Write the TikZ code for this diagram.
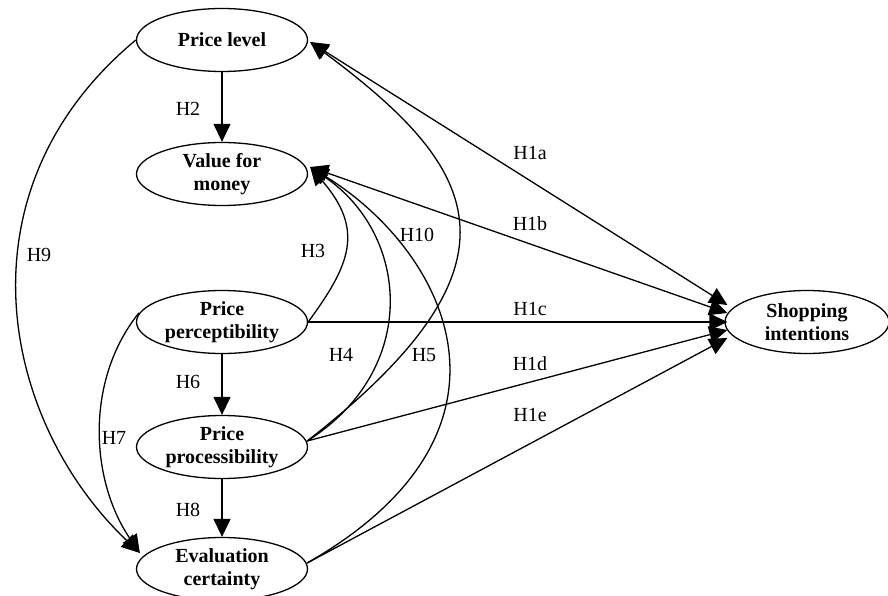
\documentclass[tikz,border=0pt]{standalone}
\usepackage{fontspec}
\setmainfont{Liberation Serif}
\usetikzlibrary{arrows.meta,shapes.geometric}
\begin{document}
\begin{tikzpicture}[x=1pt,y=-1pt,
  var/.style={ellipse, draw, line width=1.3pt, minimum width=171pt, minimum height=63pt, inner sep=0pt, align=center, font=\fontsize{20}{23.5}\selectfont\bfseries},
  lbl/.style={font=\fontsize{20}{23.5}\selectfont, inner sep=0pt},
  edge/.style={line width=1.3pt, -{Triangle[length=18pt,width=17pt]}},
  dedge/.style={line width=1.3pt, {Triangle[length=18pt,width=17pt]}-{Triangle[length=18pt,width=17pt]}}
]
\useasboundingbox (0,0) rectangle (888,596);
\fill[white] (0,0) rectangle (888,596);

% nodes
\node[var] (pl) at (222,40) {Price level};
\node[var] (vfm) at (222,174) {Value for\\money};
\node[var] (pperc) at (222,322) {Price\\perceptibility};
\node[var] (pp) at (222,447) {Price\\processibility};
\node[var] (ec) at (222,569) {Evaluation\\certainty};
\node[var, minimum width=164pt] (si) at (807,322) {Shopping\\intentions};

% connection points
\coordinate (plT) at ([shift={(2,2)}]pl.east);
\coordinate (vfmT) at ([shift={(2,-7)}]vfm.east);
\coordinate (ecT) at ([shift={(4,-16)}]ec.west);
\coordinate (ppS) at ([shift={(-1,-6)}]pp.east);
\coordinate (ecS) at ([shift={(-1,-6)}]ec.east);
\coordinate (ppercW) at ([shift={(3,-9)}]pperc.west);
\coordinate (siA) at ([shift={(3,-17)}]si.west);
\coordinate (siB) at ([shift={(3,-9)}]si.west);
\coordinate (siC) at ([shift={(3,0)}]si.west);
\coordinate (siD) at ([shift={(3,8)}]si.west);
\coordinate (siE) at ([shift={(3,16)}]si.west);

% vertical arrows
\draw[edge] (pl) -- (vfm);
\draw[edge] (pperc) -- (pp);
\draw[edge] (pp) -- (ec);

% curved arrows
\draw[edge] (pperc.east) .. controls (350,265) and (365,230) .. (vfmT);
\draw[edge] (ppS) .. controls (420,370) and (410,235) .. (vfmT);
\draw[edge] (ecS) .. controls (540,430) and (445,250) .. (vfmT);
\draw[edge] (ppS) .. controls (540,260) and (475,165) .. (plT);
\draw[edge] (ppercW) .. controls (85,380) and (90,480) .. (ecT);
\draw[edge] (pl.west) .. controls (-45,190) and (0,420) .. (ecT);

% to shopping intentions
\draw[dedge] (plT) -- (siA);
\draw[dedge] (vfmT) -- (siB);
\draw[edge] (pperc.east) -- (siC);
\draw[edge] (ppS) -- (siD);
\draw[edge] (ecS) -- (siE);

% labels
\node[lbl] (l2) at (188,109) {H2};
\node[lbl] (l6) at (188,382) {H6};
\node[lbl] (l8) at (188,510) {H8};
\node[lbl] (l7) at (114,438) {H7};
\node[lbl] (l9) at (39,255) {H9};
\node[lbl] (l3) at (313,251) {H3};
\node[lbl] (l10) at (417,235) {H10};
\node[lbl] (l4) at (341,355) {H4};
\node[lbl] (l5) at (424,355) {H5};
\node[lbl] (l1a) at (530,153) {H1a};
\node[lbl] (l1b) at (530,224) {H1b};
\node[lbl] (l1c) at (530,309) {H1c};
\node[lbl] (l1d) at (530,364) {H1d};
\node[lbl] (l1e) at (530,415) {H1e};
\end{tikzpicture}
\end{document}
